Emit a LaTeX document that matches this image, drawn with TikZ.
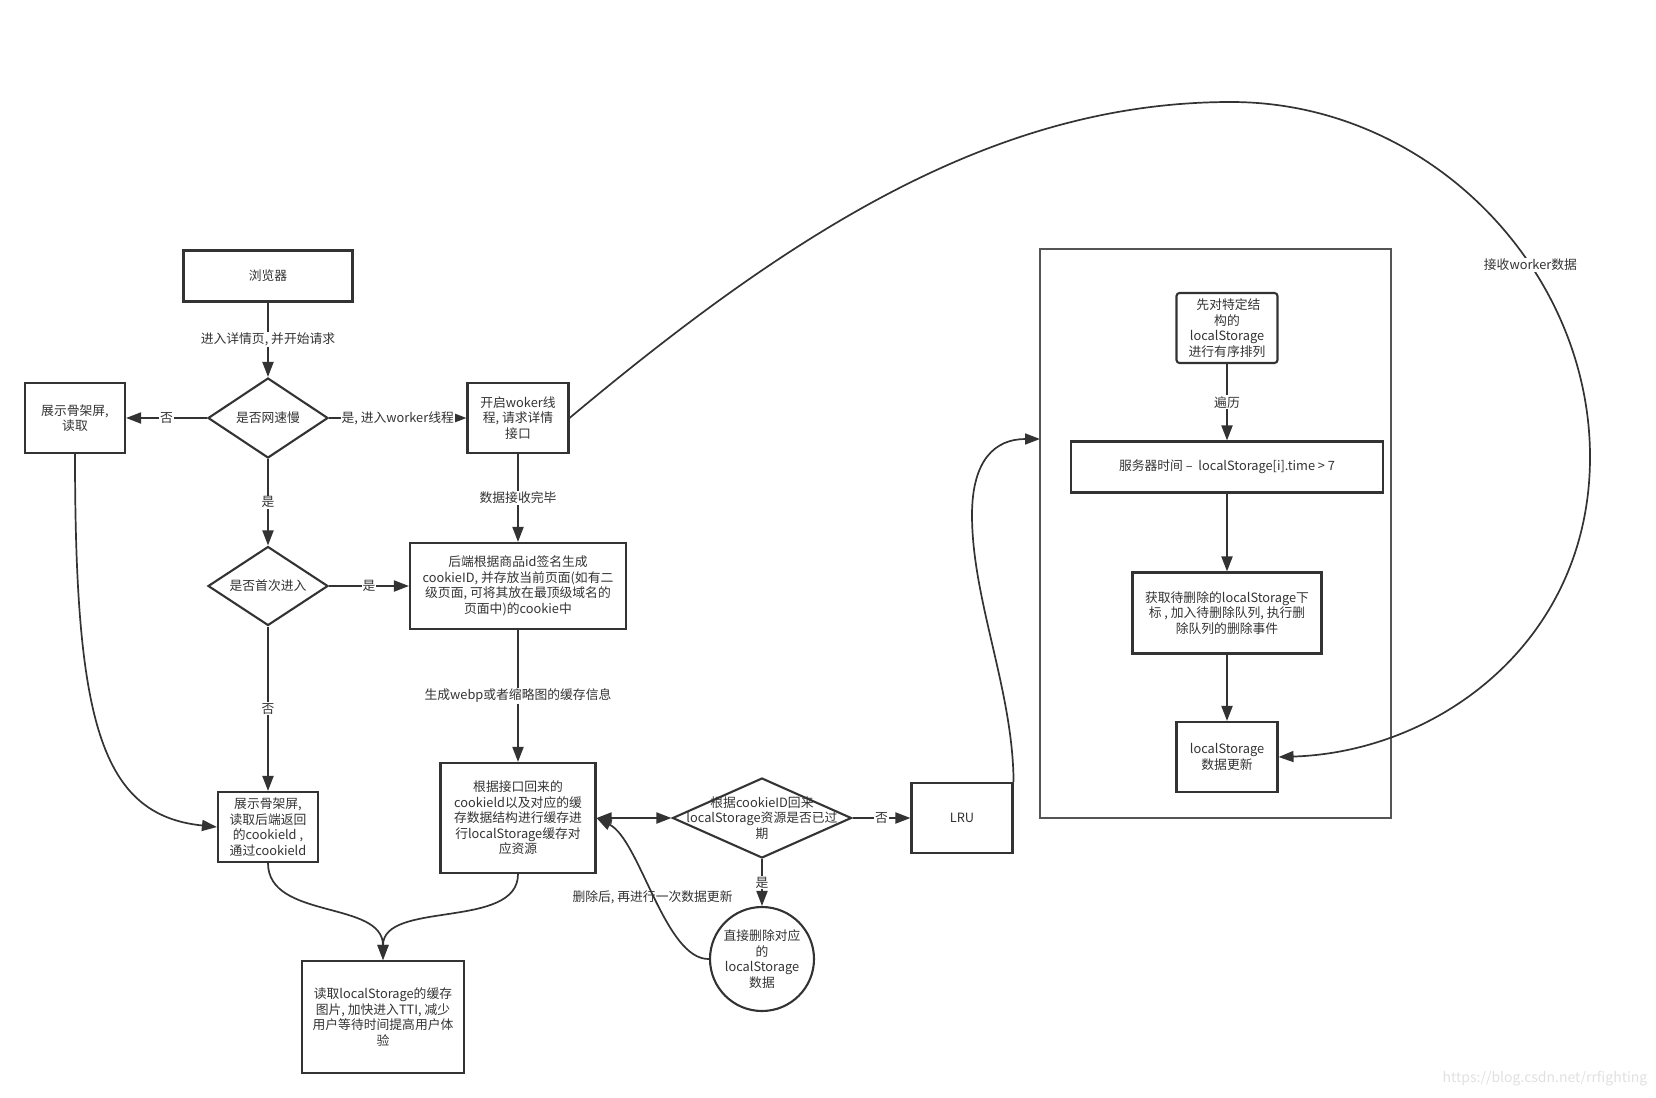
\documentclass[tikz,border=0pt]{standalone}
\usepackage{fontspec}
\setmainfont{Noto Sans CJK SC}
\usetikzlibrary{shapes.geometric,arrows.meta}
\definecolor{ink}{HTML}{333333}
\definecolor{framegray}{HTML}{555555}

\begin{document}
\begin{tikzpicture}[x=1pt, y=-1pt, color=ink,
			font=\fontsize{12.8}{15.5}\selectfont,
			box/.style={draw, rectangle, line width=2.1pt, inner sep=0pt, align=center},
			decision/.style={draw, diamond, aspect=1.5, line width=2.1pt, inner sep=0pt, align=center},
			lbl/.style={fill=white, inner sep=1pt},
			arr/.style={line width=1.9pt, -{Triangle[length=15pt,width=11pt]}},
			curve/.style={draw, line width=1.7pt, -{Triangle[length=15pt,width=11pt]}}]
			\useasboundingbox (0,0) rectangle (1656,1097);
			\node[box, minimum width=169pt, minimum height=51pt] (browser) at (268,276) {浏览器};
			\node[decision, minimum width=120pt, minimum height=80pt] (slow) at (268,418) {是否网速慢};
			\node[box, minimum width=100pt, minimum height=70pt] (skeleton) at (75,418) {展示骨架屏,\\读取};
			\node[box, minimum width=101pt, minimum height=70pt] (worker) at (518,418) {开启woker线\\程, 请求详情\\接口};
			\node[decision, minimum width=120pt, minimum height=79pt] (first) at (268,586) {是否首次进入};
			\node[box, minimum width=216pt, minimum height=86pt] (cookie) at (518,586) {后端根据商品id签名生成\\cookieID, 并存放当前页面(如有二\\级页面, 可将其放在最顶级域名的\\页面中)的cookie中};
			\node[box, minimum width=100pt, minimum height=70pt] (readid) at (268,827) {展示骨架屏,\\读取后端返回\\的cookield ,\\通过cookield};
			\node[box, minimum width=155pt, minimum height=110pt] (cache) at (518,818) {根据接口回来的\\cookield以及对应的缓\\存数据结构进行缓存进\\行localStorage缓存对\\应资源};
			\node[box, minimum width=162pt, minimum height=112pt] (readls) at (383,1017) {读取localStorage的缓存\\图片, 加快进入TTI, 减少\\用户等待时间提高用户体\\验};
			\node[decision, minimum width=179pt, minimum height=80pt,
				label={[name=expiretxt, align=center]center:根据cookieID回来\\localStorage资源是否已过\\期}] (expire) at (762,818) {};
			\node[box, minimum width=101pt, minimum height=70pt] (lru) at (962,818) {LRU};
			\node[draw, circle, line width=2.1pt, minimum size=104pt, inner sep=0pt, align=center] (drop) at (762,959) {直接删除对应\\的\\localStorage\\数据};
			\node[draw=framegray, line width=2pt, minimum width=351pt, minimum height=569pt] (lrubox) at (1215.5,533.5) {};
			\node[box, rounded corners=3pt, minimum width=101pt, minimum height=70pt] (sort) at (1227,328) {\ 先对特定结\\构的\\localStorage\\进行有序排列};
			\node[box, minimum width=312pt, minimum height=51pt] (server) at (1227,467) {服务器时间 –\ \ localStorage[i].time > 7};
			\node[box, minimum width=189pt, minimum height=81pt] (pick) at (1227,613) {获取待删除的localStorage下\\标 , 加入待删除队列, 执行删\\除队列的删除事件};
			\node[box, minimum width=101pt, minimum height=70pt] (update) at (1227,757) {localStorage\\数据更新};
			\coordinate (lruin) at (1040,439);
			\node[text=black!12, font=\fontsize{14}{16}\selectfont] (mark) at (1545,1079) {https://blog.csdn.net/rrfighting};
			\path[arr]
			(browser) edge node[lbl]{进入详情页, 并开始请求} (slow)
			(slow) edge node[lbl]{否} (skeleton) edge node[lbl]{是, 进入worker线程} (worker) edge node[lbl]{是} (first)
			(worker) edge node[lbl]{数据接收完毕} (cookie)
			(first) edge node[lbl]{是} (cookie) edge node[lbl]{否} (readid)
			(cookie) edge node[lbl]{生成webp或者缩略图的缓存信息} (cache)
			(expire) edge node[lbl]{否} (lru) edge node[lbl]{是} (drop)
			(sort) edge node[lbl]{遍历} (server)
			(server) edge (pick)
			(pick) edge (update);
			\draw[arr, {Triangle[length=15pt,width=11pt]}-{Triangle[length=15pt,width=11pt]}] (cache) -- (expire);
			\draw[curve] (skeleton.south) .. controls (75,720) and (100,815) .. (readid.west);
			\draw[curve] (readid.south) .. controls (268,920) and (383,900) .. (readls.north);
			\draw[curve] (cache.south) .. controls (518,930) and (383,900) .. (readls.north);
			\draw[curve] (drop.west) .. controls (665,960) and (640,840) .. (cache.east) node[pos=0.5]{删除后, 再进行一次数据更新};
			\draw[curve] (lru.north east) .. controls (1013,690) and (972,600) .. (972,515) .. controls (972,460) and (995,439) .. (lruin);
			\draw[curve] (worker.east) .. controls (800,225) and (1000,102) .. (1231,102) .. controls (1430,102) and (1590,270) .. (1590,457) node[pos=0.63, lbl]{接收worker数据} .. controls (1590,640) and (1440,752) .. (update.east);
		\end{tikzpicture}
\end{document}
